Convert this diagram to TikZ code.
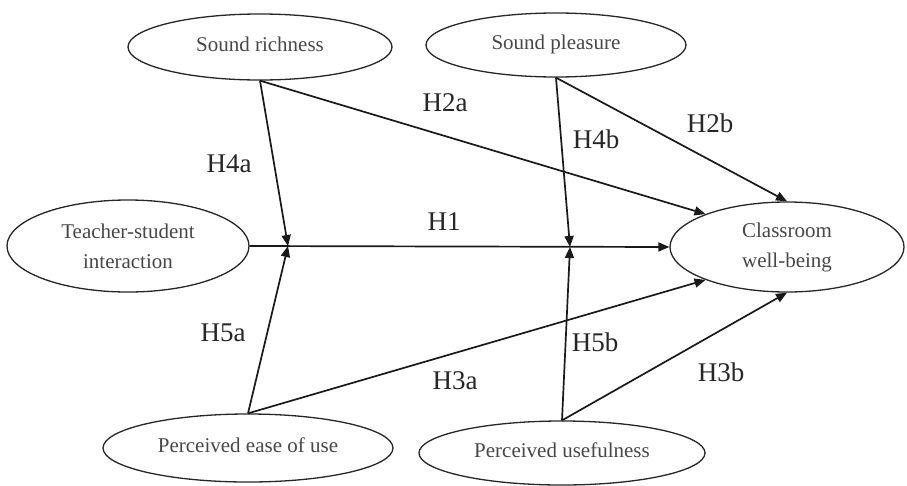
\documentclass[tikz,border=0pt]{standalone}
\usepackage{fontspec}
\setmainfont{Liberation Serif}
\usetikzlibrary{arrows.meta,shapes.geometric}
\begin{document}
\begin{tikzpicture}[x=1pt,y=-1pt,
  construct/.style={draw=black!85, line width=1.3pt, ellipse, inner sep=0pt, align=center,
    text=black!72, font=\fontsize{21}{30}\selectfont},
  path/.style={draw=black!90, line width=1.7pt, -{Triangle[length=11pt,width=9pt]}},
  hyp/.style={text=black!85, font=\fontsize{27}{30}\selectfont, inner sep=0pt}]
\useasboundingbox (0,0) rectangle (907,485);
\node[construct, minimum width=264pt, minimum height=66pt] (sr) at (260,47) {\raisebox{6pt}{Sound richness}};
\node[construct, minimum width=260pt, minimum height=64pt] (sp) at (556,45) {\raisebox{6pt}{Sound pleasure}};
\node[construct, minimum width=242pt, minimum height=92pt] (ts) at (128,246) {Teacher-student\\interaction};
\node[construct, minimum width=234pt, minimum height=90pt] (cw) at (787,247) {Classroom\\well-being};
\node[construct, minimum width=290pt, minimum height=68pt] (pe) at (248,448) {\raisebox{6pt}{Perceived ease of use}};
\node[construct, minimum width=286pt, minimum height=64pt] (pu) at (562,453) {\raisebox{6pt}{Perceived usefulness}};
\coordinate (j1) at (288,246);
\coordinate (j2) at (570,247);
% H1
\draw[path] (ts.east) -- (cw.west);
% moderations
\draw[path] (sr.south) -- (j1);
\draw[path] (pe.north) -- (j1);
\draw[path] (sp.south) -- (j2);
\draw[path] (pu.north) -- (j2);
% direct effects
\draw[path] (sr.south) -- (cw.158);
\draw[path] (sp.south) -- (cw.north);
\draw[path] (pe.north) -- (cw.202);
\draw[path] (pu.north) -- (cw.south);
% labels
\node[hyp] (l2a) at (445,103) {H2a};
\node[hyp] (l4a) at (229,164) {H4a};
\node[hyp] (l4b) at (596,139) {H4b};
\node[hyp] (l2b) at (710,123) {H2b};
\node[hyp] (l1) at (444,222) {H1};
\node[hyp] (l5a) at (223,333) {H5a};
\node[hyp] (l3a) at (455,381) {H3a};
\node[hyp] (l5b) at (595,342) {H5b};
\node[hyp] (l3b) at (721,372) {H3b};
\end{tikzpicture}
\end{document}
